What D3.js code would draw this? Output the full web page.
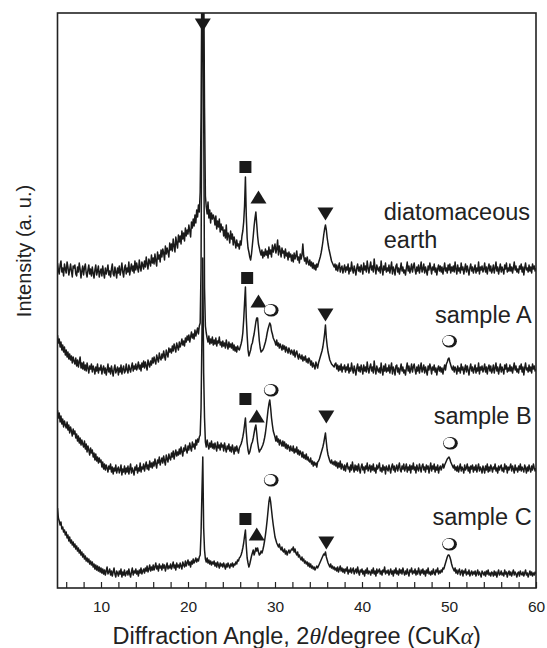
<!DOCTYPE html>
<html>
<head>
<meta charset="utf-8">
<script src="https://cdn.jsdelivr.net/npm/d3@7"></script>
<style>
  body { margin: 0; background: #fff; }
  svg { display: block; font-family: "Liberation Sans", Arial, sans-serif; }
</style>
</head>
<body>
<div id="chart"></div>
<script>
// XRD scans, 5-60 deg every 0.1 deg (one row per degree), intensity in a.u. (stacked)
var angleStart = 5, angleStep = 0.1;

var earth = [
  325, 318, 314, 323, 327, 316, 320, 312, 324, 319,
  315, 326, 321, 313, 318, 324, 317, 311, 322, 320,
  323, 314, 312, 321, 316, 325, 319, 310, 317, 322,
  313, 320, 324, 315, 311, 318, 323, 314, 319, 312,
  321, 315, 310, 318, 323, 313, 317, 322, 311, 316,
  319, 312, 322, 315, 310, 320, 314, 318, 323, 313,
  317, 311, 319, 324, 314, 312, 321, 316, 310, 320,
  315, 322, 313, 318, 325, 316, 311, 320, 323, 314,
  320, 316, 326, 313, 319, 324, 317, 322, 315, 327,
  318, 325, 320, 316, 328, 321, 317, 326, 323, 319,
  327, 321, 331, 324, 319, 329, 326, 322, 333, 325,
  330, 324, 334, 327, 322, 336, 329, 333, 326, 338,
  331, 339, 335, 328, 342, 334, 340, 336, 331, 345,
  338, 344, 337, 349, 342, 336, 351, 345, 340, 353,
  346, 352, 344, 357, 349, 355, 347, 360, 352, 358,
  354, 363, 357, 351, 366, 360, 369, 362, 373, 365,
  378, 371, 383, 376, 396, 470, 620, 700, 620, 480,
  392, 381, 374, 386, 370, 378, 365, 375, 369, 373,
  370, 363, 372, 359, 367, 361, 369, 356, 364, 358,
  361, 352, 358, 350, 363, 348, 355, 352, 345, 357,
  349, 354, 343, 351, 346, 340, 348, 342, 344, 339,
  347, 343, 352, 357, 366, 382, 411, 372, 350, 340,
  336, 331, 328, 334, 343, 352, 362, 370, 376, 364,
  352, 344, 340, 336, 333, 338, 330, 336, 332, 339,
  333, 337, 330, 341, 334, 338, 331, 343, 336, 340,
  344, 335, 339, 348, 333, 342, 337, 331, 340, 335,
  337, 330, 339, 332, 335, 328, 336, 331, 334, 327,
  333, 326, 335, 329, 332, 337, 328, 331, 325, 334,
  329, 333, 344, 332, 327, 330, 324, 331, 326, 323,
  328, 322, 326, 320, 325, 319, 323, 318, 324, 321,
  325, 328, 331, 335, 340, 346, 353, 359, 363, 358,
  350, 344, 339, 335, 331, 327, 325, 323, 321, 324,
  318, 323, 317, 321, 325, 316, 320, 322, 315, 319,
  323, 316, 321, 318, 324, 314, 320, 317, 326, 319,
  315, 322, 318, 313, 320, 324, 317, 321, 316, 323,
  319, 314, 325, 318, 322, 316, 327, 320, 315, 321,
  326, 318, 322, 316, 329, 320, 314, 323, 319, 317,
  321, 315, 327, 319, 313, 322, 318, 325, 316, 320,
  317, 323, 315, 320, 326, 314, 321, 318, 313, 322,
  324, 316, 320, 314, 319, 325, 317, 321, 315, 318,
  313, 320, 326, 317, 322, 315, 319, 324, 316, 321,
  325, 318, 314, 321, 317, 323, 315, 320, 326, 316,
  319, 324, 315, 321, 317, 313, 322, 318, 325, 320,
  314, 321, 318, 324, 316, 320, 313, 319, 323, 317,
  322, 316, 321, 314, 319, 325, 317, 320, 315, 323,
  318, 324, 315, 321, 317, 322, 316, 326, 319, 314,
  323, 317, 320, 315, 325, 318, 321, 314, 319, 324,
  316, 322, 318, 313, 320, 324, 317, 321, 315, 319,
  323, 315, 320, 317, 326, 314, 321, 318, 322, 316,
  319, 325, 316, 321, 314, 320, 324, 317, 322, 315,
  318, 323, 315, 320, 326, 317, 321, 314, 319, 324,
  316, 321, 318, 314, 323, 319, 325, 316, 320, 317,
  324, 317, 321, 315, 320, 326, 318, 322, 316, 319,
  315, 322, 319, 324, 316, 321, 313, 320, 325, 318,
  320, 316, 323, 317, 321, 315, 324, 319, 322, 317,
  320
];

var sampleA = [
  253, 245, 249, 241, 246, 238, 243, 236, 241, 233,
  238, 231, 236, 229, 234, 228, 232, 225, 231, 227,
  224, 230, 222, 228, 221, 226, 231, 220, 225, 219,
  226, 218, 223, 217, 225, 220, 215, 222, 219, 224,
  216, 222, 219, 214, 221, 217, 224, 215, 220, 218,
  223, 214, 219, 222, 215, 220, 213, 218, 224, 216,
  220, 214, 222, 217, 212, 219, 223, 215, 218, 221,
  213, 220, 216, 223, 214, 219, 222, 215, 217, 224,
  218, 215, 223, 219, 216, 221, 225, 217, 222, 219,
  224, 218, 221, 226, 219, 223, 217, 225, 221, 227,
  220, 226, 222, 218, 228, 224, 221, 227, 223, 230,
  225, 231, 227, 224, 233, 229, 226, 235, 230, 228,
  234, 230, 237, 232, 228, 238, 234, 231, 240, 236,
  239, 235, 242, 237, 244, 240, 236, 245, 241, 238,
  246, 241, 244, 249, 243, 247, 242, 250, 246, 252,
  248, 253, 246, 251, 256, 250, 254, 249, 258, 252,
  256, 260, 254, 262, 265, 320, 520, 700, 480, 300,
  262, 255, 250, 246, 252, 244, 249, 245, 251, 243,
  248, 244, 250, 242, 247, 245, 251, 243, 246, 241,
  247, 242, 245, 240, 248, 243, 239, 246, 241, 244,
  240, 245, 238, 243, 237, 241, 236, 242, 239, 238,
  241, 244, 248, 255, 268, 285, 301, 270, 252, 238,
  232, 235, 238, 243, 245, 250, 254, 260, 266, 270,
  270, 258, 247, 240, 236, 237, 238, 240, 243, 246,
  250, 255, 259, 262, 265, 263, 257, 254, 250, 248,
  246, 243, 248, 242, 245, 240, 244, 241, 238, 243,
  239, 242, 236, 241, 238, 235, 240, 237, 234, 238,
  236, 233, 238, 231, 235, 237, 232, 229, 234, 231,
  229, 233, 227, 231, 228, 232, 226, 229, 225, 230,
  228, 223, 227, 221, 225, 222, 219, 226, 223, 220,
  225, 228, 231, 234, 237, 241, 247, 254, 263, 250,
  242, 236, 232, 228, 226, 224, 223, 222, 221, 224,
  225, 219, 223, 217, 222, 218, 224, 216, 221, 219,
  223, 216, 221, 218, 224, 215, 220, 217, 225, 219,
  215, 222, 218, 213, 220, 224, 217, 221, 216, 223,
  219, 214, 223, 217, 221, 216, 226, 219, 215, 221,
  224, 217, 221, 215, 227, 219, 214, 222, 218, 216,
  220, 215, 225, 218, 213, 222, 217, 224, 216, 220,
  217, 223, 215, 220, 225, 214, 221, 218, 213, 222,
  223, 216, 220, 214, 219, 224, 217, 221, 215, 218,
  213, 220, 225, 217, 222, 215, 219, 224, 216, 221,
  224, 218, 214, 221, 217, 223, 215, 220, 225, 216,
  219, 223, 215, 221, 217, 213, 222, 218, 224, 220,
  214, 221, 218, 223, 216, 220, 213, 219, 222, 217,
  221, 216, 220, 214, 219, 223, 218, 224, 226, 229,
  230, 226, 223, 220, 218, 222, 216, 221, 219, 214,
  222, 217, 220, 215, 224, 218, 221, 214, 219, 223,
  216, 222, 218, 213, 220, 224, 217, 221, 215, 219,
  223, 215, 220, 217, 225, 214, 221, 218, 222, 216,
  219, 224, 216, 221, 214, 220, 223, 217, 222, 215,
  218, 223, 215, 220, 225, 217, 221, 214, 219, 224,
  216, 221, 218, 214, 223, 219, 224, 216, 220, 217,
  223, 217, 221, 215, 220, 225, 218, 222, 216, 219,
  215, 222, 219, 224, 216, 221, 213, 220, 225, 218,
  220, 216, 223, 217, 221, 215, 224, 219, 222, 217,
  219
];

var sampleB = [
  178, 170, 175, 166, 172, 164, 169, 161, 167, 163,
  160, 166, 158, 163, 155, 161, 157, 152, 159, 154,
  157, 150, 154, 147, 152, 145, 150, 143, 148, 144,
  141, 147, 139, 144, 136, 142, 138, 133, 140, 135,
  138, 131, 135, 128, 134, 127, 131, 125, 130, 126,
  128, 121, 126, 119, 124, 118, 123, 120, 116, 122,
  119, 124, 116, 121, 114, 120, 117, 123, 115, 119,
  121, 115, 118, 123, 113, 119, 116, 122, 114, 120,
  116, 122, 114, 119, 124, 115, 120, 117, 113, 121,
  118, 123, 115, 120, 117, 125, 116, 121, 119, 124,
  117, 122, 126, 119, 123, 118, 127, 121, 125, 120,
  126, 122, 129, 124, 120, 128, 125, 131, 123, 127,
  130, 125, 132, 127, 123, 133, 129, 126, 134, 130,
  128, 135, 131, 137, 129, 134, 138, 132, 136, 133,
  139, 134, 141, 136, 132, 140, 137, 143, 138, 135,
  142, 138, 145, 140, 137, 146, 141, 144, 139, 148,
  143, 149, 146, 151, 153, 180, 250, 330, 215, 170,
  146, 141, 148, 143, 139, 145, 141, 147, 140, 144,
  139, 145, 141, 137, 146, 140, 143, 138, 145, 141,
  143, 137, 145, 140, 136, 142, 139, 144, 137, 141,
  136, 143, 139, 134, 141, 137, 142, 138, 135, 140,
  142, 144, 147, 151, 156, 163, 170, 156, 145, 138,
  134, 136, 140, 144, 146, 150, 155, 160, 163, 155,
  146, 140, 136, 138, 139, 141, 143, 146, 150, 155,
  162, 170, 178, 184, 188, 180, 170, 163, 157, 154,
  151, 147, 152, 146, 149, 143, 148, 145, 142, 147,
  142, 146, 140, 144, 139, 143, 141, 137, 142, 138,
  137, 142, 135, 139, 136, 141, 134, 138, 133, 137,
  135, 131, 136, 130, 133, 129, 134, 128, 131, 127,
  126, 130, 124, 127, 122, 126, 123, 125, 121, 126,
  127, 129, 132, 135, 138, 141, 145, 150, 155, 146,
  138, 133, 130, 127, 125, 128, 124, 126, 123, 127,
  122, 126, 120, 125, 121, 127, 119, 124, 121, 118,
  123, 117, 122, 125, 119, 121, 116, 123, 118, 126,
  120, 116, 123, 118, 122, 117, 124, 119, 115, 121,
  124, 118, 121, 115, 122, 119, 125, 117, 120, 123,
  116, 122, 118, 124, 117, 120, 115, 123, 119, 121,
  125, 117, 120, 116, 123, 118, 121, 114, 122, 119,
  117, 123, 119, 115, 121, 124, 118, 122, 116, 120,
  123, 117, 121, 125, 118, 116, 122, 119, 124, 117,
  120, 124, 116, 121, 118, 123, 115, 122, 119, 125,
  118, 121, 115, 123, 119, 117, 124, 120, 116, 122,
  124, 118, 121, 116, 123, 119, 122, 115, 120, 125,
  117, 122, 119, 124, 116, 121, 118, 123, 115, 120,
  122, 118, 121, 124, 120, 123, 125, 127, 129, 130,
  131, 129, 126, 124, 122, 120, 123, 118, 121, 117,
  122, 116, 120, 124, 117, 121, 119, 115, 123, 118,
  120, 124, 117, 121, 115, 122, 119, 123, 116, 121,
  118, 123, 116, 120, 124, 117, 121, 119, 115, 122,
  119, 115, 122, 118, 124, 116, 121, 117, 123, 120,
  116, 121, 119, 124, 117, 120, 115, 122, 118, 121,
  123, 117, 120, 116, 124, 119, 122, 115, 121, 118,
  121, 124, 117, 122, 119, 115, 123, 118, 120, 116,
  122, 118, 124, 117, 121, 119, 116, 123, 120, 115,
  121, 117, 123, 119, 116, 122, 118, 124, 120, 117,
  120
];

var sampleC = [
  80, 70, 67, 63, 66, 59, 61, 56, 58, 53,
  56, 50, 53, 47, 51, 45, 48, 43, 46, 41,
  44, 39, 42, 37, 40, 35, 38, 33, 36, 31,
  34, 29, 32, 27, 30, 26, 29, 24, 27, 23,
  26, 21, 24, 19, 23, 18, 22, 17, 21, 16,
  20, 15, 19, 14, 18, 13, 17, 21, 14, 16,
  19, 13, 17, 12, 16, 20, 14, 11, 17, 15,
  12, 17, 14, 19, 11, 16, 13, 18, 12, 15,
  17, 13, 19, 14, 11, 16, 20, 13, 17, 15,
  19, 14, 17, 12, 18, 15, 20, 14, 17, 19,
  15, 20, 17, 22, 16, 19, 23, 17, 21, 18,
  23, 18, 21, 25, 19, 22, 17, 24, 20, 22,
  18, 24, 20, 23, 17, 21, 25, 19, 22, 20,
  24, 19, 22, 26, 20, 23, 18, 25, 21, 23,
  20, 25, 22, 19, 26, 23, 21, 27, 22, 25,
  28, 23, 26, 21, 27, 24, 29, 25, 27, 30,
  26, 29, 27, 31, 33, 55, 95, 131, 60, 38,
  29, 26, 30, 25, 28, 24, 27, 23, 26, 24,
  27, 22, 25, 21, 26, 23, 20, 25, 22, 24,
  21, 25, 22, 19, 24, 21, 25, 22, 20, 24,
  22, 25, 21, 24, 23, 26, 24, 28, 27, 30,
  31, 33, 36, 40, 45, 52, 58, 42, 30, 25,
  21, 24, 28, 32, 35, 38, 33, 36, 40, 37,
  40, 36, 33, 34, 37, 35, 38, 42, 47, 53,
  60, 68, 77, 86, 91, 86, 78, 70, 63, 57,
  51, 48, 45, 43, 41, 44, 40, 38, 41, 37,
  36, 39, 34, 37, 33, 36, 38, 35, 37, 39,
  38, 41, 36, 39, 35, 33, 36, 31, 33, 30,
  28, 31, 27, 29, 25, 27, 24, 26, 22, 25,
  21, 24, 20, 22, 19, 21, 18, 20, 22, 20,
  22, 24, 26, 28, 30, 32, 34, 33, 36, 31,
  28, 25, 23, 21, 24, 20, 22, 19, 21, 18,
  20, 17, 21, 16, 19, 22, 17, 20, 16, 19,
  15, 19, 17, 21, 14, 18, 16, 20, 15, 18,
  20, 14, 17, 19, 15, 21, 16, 13, 18, 16,
  19, 14, 17, 12, 18, 15, 20, 14, 17, 16,
  13, 18, 15, 20, 14, 17, 12, 19, 15, 17,
  19, 14, 17, 13, 18, 16, 21, 14, 17, 15,
  18, 13, 16, 19, 14, 17, 12, 18, 15, 20,
  14, 17, 13, 19, 15, 18, 14, 20, 16, 13,
  17, 14, 19, 15, 12, 18, 16, 20, 14, 17,
  15, 19, 13, 17, 14, 20, 16, 13, 18, 15,
  19, 14, 17, 12, 18, 15, 20, 14, 16, 13,
  17, 14, 19, 15, 13, 18, 16, 20, 14, 17,
  15, 18, 16, 20, 19, 22, 25, 28, 31, 33,
  33, 31, 28, 24, 21, 19, 17, 20, 15, 18,
  14, 17, 19, 13, 16, 18, 12, 17, 15, 19,
  13, 16, 14, 18, 12, 15, 17, 13, 16, 14,
  17, 12, 15, 18, 13, 16, 14, 11, 17, 15,
  13, 16, 12, 17, 14, 18, 13, 15, 12, 16,
  15, 12, 17, 13, 16, 11, 15, 18, 13, 14,
  17, 13, 15, 12, 18, 14, 16, 11, 15, 17,
  13, 16, 12, 15, 18, 13, 16, 14, 11, 15,
  16, 12, 17, 14, 13, 16, 12, 15, 18, 13,
  15, 11, 14, 17, 13, 16, 12, 15, 13, 16,
  14
];

var traceValues = [earth, sampleA, sampleB, sampleC];

// phase markers: shape, angle (deg), height (a.u.)
var markers = [
  { shape: "down", angle: 21.7, h: 563 },
  { shape: "square", angle: 26.6, h: 421 },
  { shape: "up", angle: 28.1, h: 391 },
  { shape: "down", angle: 35.8, h: 374 },
  { shape: "square", angle: 26.8, h: 310 },
  { shape: "up", angle: 28.1, h: 287 },
  { shape: "circle", angle: 29.5, h: 278 },
  { shape: "down", angle: 35.8, h: 273 },
  { shape: "circle", angle: 50.0, h: 247 },
  { shape: "square", angle: 26.6, h: 189 },
  { shape: "up", angle: 27.9, h: 172 },
  { shape: "circle", angle: 29.5, h: 198 },
  { shape: "down", angle: 35.9, h: 171 },
  { shape: "circle", angle: 50.1, h: 145 },
  { shape: "square", angle: 26.6, h: 69 },
  { shape: "up", angle: 27.9, h: 54 },
  { shape: "circle", angle: 29.5, h: 108 },
  { shape: "down", angle: 35.9, h: 45 },
  { shape: "circle", angle: 50.0, h: 44 }
];

var labels = [
  { text: "diatomaceous", angle: 42.5, h: 368, anchor: "start" },
  { text: "earth", angle: 42.5, h: 340, anchor: "start" },
  { text: "sample A", angle: 59.5, h: 265, anchor: "end" },
  { text: "sample B", angle: 59.5, h: 164, anchor: "end" },
  { text: "sample C", angle: 59.5, h: 63, anchor: "end" }
];

var tickAngles = d3.range(6, 61, 2);

var W = 547, H = 648;
var margin = { top: 13, right: 11, bottom: 60, left: 57.5 };
var width = W - margin.left - margin.right;
var height = H - margin.top - margin.bottom;

var svg = d3.select("#chart").append("svg")
    .attr("width", W)
    .attr("height", H);

var g = svg.append("g")
    .attr("transform", "translate(" + margin.left + "," + margin.top + ")");

var x = d3.scaleLinear().domain([5, 60]).range([0, width]);
var y = d3.scaleLinear().domain([0, 575]).range([height, 0]);

svg.append("defs").append("clipPath")
    .attr("id", "plotArea")
  .append("rect")
    .attr("width", width)
    .attr("height", height);

traceValues.forEach(function(vals) {
  if (vals.length !== 551) throw new Error("bad length " + vals.length);
});

var line = d3.line()
    .x(function(d, i) { return x(angleStart + i * angleStep); })
    .y(function(d) { return y(d); });

g.append("g")
    .attr("clip-path", "url(#plotArea)")
  .selectAll(".trace")
  .data(traceValues)
  .enter().append("path")
    .attr("class", "trace")
    .attr("d", line)
    .attr("fill", "none")
    .attr("stroke", "#1a1a1a")
    .attr("stroke-width", 1.5)
    .attr("stroke-linejoin", "round");

// axis ticks point inward, labels only on the tens
var xAxis = d3.axisBottom(x)
    .tickValues(tickAngles)
    .tickSize(-6)
    .tickPadding(13)
    .tickFormat(function(d) { return d % 10 === 0 ? d : ""; });

var axisG = g.append("g")
    .attr("transform", "translate(0," + height + ")")
    .call(xAxis);
axisG.select(".domain").remove();
axisG.selectAll("line").attr("stroke", "#222").attr("stroke-width", 1.2);
axisG.selectAll("text")
    .attr("fill", "#222")
    .style("font-size", "15.5px")
    .style("font-family", "'Liberation Sans', Arial, sans-serif");

g.append("rect")
    .attr("width", width)
    .attr("height", height)
    .attr("fill", "none")
    .attr("stroke", "#222")
    .attr("stroke-width", 1.6);

// markers
var mk = g.selectAll(".marker")
  .data(markers)
  .enter().append("g")
    .attr("class", "marker")
    .attr("transform", function(d) { return "translate(" + x(d.angle) + "," + y(d.h) + ")"; });

mk.filter(function(d) { return d.shape === "down"; })
  .append("path")
    .attr("d", "M-8,-6.5L8,-6.5L0,6.5Z")
    .attr("fill", "#1a1a1a");

mk.filter(function(d) { return d.shape === "up"; })
  .append("path")
    .attr("d", "M0,-6.5L8,6.5L-8,6.5Z")
    .attr("fill", "#1a1a1a");

mk.filter(function(d) { return d.shape === "square"; })
  .append("rect")
    .attr("x", -6).attr("y", -6)
    .attr("width", 12).attr("height", 12)
    .attr("fill", "#1a1a1a");

var circ = mk.filter(function(d) { return d.shape === "circle"; });
circ.append("ellipse")
    .attr("cx", 0.6).attr("cy", 0.3)
    .attr("rx", 7.3).attr("ry", 6.3)
    .attr("fill", "#1a1a1a");
circ.append("ellipse")
    .attr("cx", -0.6).attr("cy", -0.2)
    .attr("rx", 5.6).attr("ry", 5)
    .attr("fill", "#fff");

// sample names
g.selectAll(".label")
  .data(labels)
  .enter().append("text")
    .attr("class", "label")
    .attr("x", function(d) { return x(d.angle); })
    .attr("y", function(d) { return y(d.h); })
    .attr("text-anchor", function(d) { return d.anchor; })
    .attr("fill", "#222")
    .style("font-size", "23.5px")
    .text(function(d) { return d.text; });

// axis titles
var xTitle = svg.append("text")
    .attr("x", margin.left + width / 2)
    .attr("y", 644)
    .attr("text-anchor", "middle")
    .attr("fill", "#222")
    .style("font-size", "23.5px");
xTitle.append("tspan").text("Diffraction Angle, 2");
xTitle.append("tspan").style("font-family", "'Liberation Serif', 'DejaVu Serif', serif").style("font-style", "italic").text("θ");
xTitle.append("tspan").text("/degree (CuK");
xTitle.append("tspan").style("font-family", "'Liberation Serif', 'DejaVu Serif', serif").style("font-style", "italic").text("α");
xTitle.append("tspan").text(")");

svg.append("text")
    .attr("transform", "translate(31,251) rotate(-90)")
    .attr("text-anchor", "middle")
    .attr("fill", "#222")
    .style("font-size", "20px")
    .text("Intensity (a. u.)");
</script>
</body>
</html>
